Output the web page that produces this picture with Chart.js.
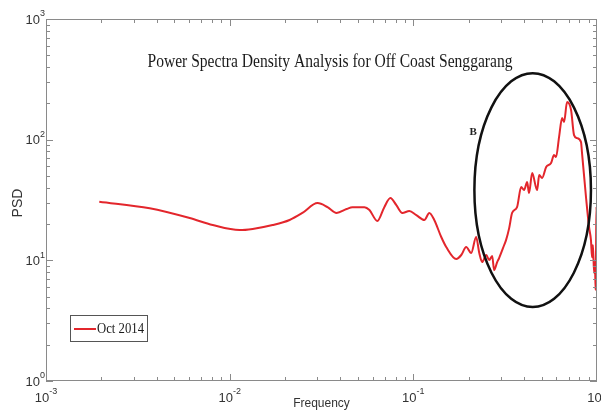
<!DOCTYPE html>
<html>
<head>
<meta charset="utf-8">
<title>PSD</title>
<script src="https://cdn.jsdelivr.net/npm/chart.js@4.4.1/dist/chart.umd.min.js"></script>
<style>
    html, body { margin: 0; padding: 0; background: #ffffff; }
    #chart_box { width: 601px; height: 416px; }
</style>
</head>
<body>
<div id="chart_box"><canvas id="psd_chart" width="601" height="416"></canvas></div>
<script>
const chartTitle = "Power Spectra Density Analysis for Off Coast Senggarang";
const seriesLabel = "Oct 2014";
const xAxisTitle = "Frequency";
const yAxisTitle = "PSD";

// frequency / PSD pairs
const frequencies = [
    0.00195, 0.00367, 0.00606, 0.00809, 0.01133, 0.01334, 0.01713, 0.0212, 0.0249, 0.0301,
    0.0341, 0.0382, 0.0433, 0.0466, 0.0542, 0.0577, 0.0637, 0.0695, 0.075, 0.0808,
    0.0871, 0.0951, 0.1038, 0.1148, 0.1222, 0.130, 0.1419, 0.151, 0.1713, 0.1824,
    0.194, 0.2065, 0.2198, 0.2286, 0.237, 0.2495, 0.2589, 0.2687, 0.2754, 0.2861,
    0.2931, 0.3124, 0.3197, 0.3325, 0.345, 0.367, 0.3864, 0.401, 0.4165, 0.4265,
    0.4436, 0.472, 0.4845, 0.5024, 0.5286, 0.5623, 0.5834, 0.598, 0.6215, 0.6455,
    0.6617, 0.687, 0.7224, 0.750, 0.778, 0.8185, 0.828, 0.871, 0.9048, 0.927,
    0.9398, 0.9506, 0.9638, 0.975, 0.982, 0.988, 0.993, 1.0
];
const psd = [
    30.6, 27.0, 22.4, 19.6, 17.8, 18.2, 19.6, 21.6, 24.7, 29.8,
    27.6, 24.7, 26.6, 27.6, 27.6, 26.1, 21.2, 27.6, 32.8, 28.7,
    24.7, 25.6, 23.7, 21.6, 24.7, 21.6, 15.6, 12.9, 10.25, 11.07,
    12.9, 11.5, 15.6, 11.5, 9.68, 11.07, 10.06, 10.85, 8.31, 9.68,
    10.45, 13.4, 14.7, 18.5, 24.7, 27.6, 40.5, 38.2, 44.5, 36.1,
    52.9, 38.2, 50.9, 48.1, 59.3, 64.0, 74.6, 71.7, 105, 151,
    140, 205, 176, 109, 103, 95.5, 78.9, 33.5, 18.9, 14.7,
    10.6, 13.4, 7.85, 9.68, 5.68, 12.2, 28, 20
];

const xDecades = [-3, -2, -1, 0];
const yDecades = [0, 1, 2, 3];

// circled region "B"
const markerLabel = "B";
const markerFreq = 0.212;
const markerPsd = 115;
const ellipseFreq = [0.215, 0.927];
const ellipsePsd = [4.1, 356];

function superLabel(ctx, exponent, x, y, align) {
    const base = "10";
    const sup = String(exponent);
    ctx.font = "13px 'Liberation Sans', Arial, sans-serif";
    const wb = ctx.measureText(base).width;
    ctx.font = "9px 'Liberation Sans', Arial, sans-serif";
    const ws = ctx.measureText(sup).width;
    let left = x;
    if (align === "right") left = x - wb - ws;
    if (align === "center") left = x - (wb + ws) / 2;
    ctx.textAlign = "left";
    ctx.textBaseline = "middle";
    ctx.font = "13px 'Liberation Sans', Arial, sans-serif";
    ctx.fillText(base, left, y);
    ctx.font = "9px 'Liberation Sans', Arial, sans-serif";
    ctx.fillText(sup, left + wb, y - 6);
}

const matlabFrame = {
    id: "matlabFrame",
    afterDatasetsDraw(chart) {
        const ctx = chart.ctx;
        const area = chart.chartArea;
        const xs = chart.scales.x;
        const ys = chart.scales.y;
        ctx.save();

        // the black ellipse round region B
        const ex0 = xs.getPixelForValue(ellipseFreq[0]);
        const ex1 = xs.getPixelForValue(ellipseFreq[1]);
        const ey0 = ys.getPixelForValue(ellipsePsd[1]);
        const ey1 = ys.getPixelForValue(ellipsePsd[0]);
        ctx.beginPath();
        ctx.ellipse((ex0 + ex1) / 2, (ey0 + ey1) / 2, (ex1 - ex0) / 2, (ey1 - ey0) / 2, 0, 0, Math.PI * 2);
        ctx.strokeStyle = "#111111";
        ctx.lineWidth = 2.5;
        ctx.stroke();

        ctx.fillStyle = "#222222";
        ctx.font = "bold 11px 'Liberation Serif', 'Times New Roman', serif";
        ctx.textAlign = "center";
        ctx.textBaseline = "middle";
        ctx.fillText(markerLabel, xs.getPixelForValue(markerFreq), ys.getPixelForValue(markerPsd));

        // box and ticks
        ctx.strokeStyle = "#8a8a8a";
        ctx.lineWidth = 1;
        ctx.strokeRect(area.left + 0.5, area.top + 0.5, area.right - area.left - 1, area.bottom - area.top - 1);
        ctx.beginPath();
        xDecades.slice(0, -1).forEach(function(d) {
            for (let m = 1; m <= 9; m++) {
                const px = Math.round(xs.getPixelForValue(m * Math.pow(10, d))) + 0.5;
                const len = m === 1 ? 7 : 4;
                ctx.moveTo(px, area.bottom);
                ctx.lineTo(px, area.bottom - len);
                ctx.moveTo(px, area.top);
                ctx.lineTo(px, area.top + len);
            }
        });
        yDecades.slice(0, -1).forEach(function(d) {
            for (let m = 1; m <= 9; m++) {
                const py = Math.round(ys.getPixelForValue(m * Math.pow(10, d))) + 0.5;
                const len = m === 1 ? 7 : 4;
                ctx.moveTo(area.left, py);
                ctx.lineTo(area.left + len, py);
                ctx.moveTo(area.right, py);
                ctx.lineTo(area.right - len, py);
            }
        });
        ctx.stroke();

        // tick labels
        ctx.fillStyle = "#333333";
        xDecades.forEach(function(d) {
            superLabel(ctx, d, xs.getPixelForValue(Math.pow(10, d)), area.bottom + 17, "center");
        });
        yDecades.forEach(function(d) {
            superLabel(ctx, d, area.left - 1, ys.getPixelForValue(Math.pow(10, d)) + 1, "right");
        });

        // axis titles
        ctx.font = "12px 'Liberation Sans', Arial, sans-serif";
        ctx.textAlign = "center";
        ctx.textBaseline = "middle";
        ctx.fillText(xAxisTitle, (area.left + area.right) / 2, area.bottom + 23);
        ctx.save();
        ctx.translate(18, (area.top + area.bottom) / 2 + 3);
        ctx.rotate(-Math.PI / 2);
        ctx.font = "14px 'Liberation Sans', Arial, sans-serif";
        ctx.fillText(yAxisTitle, 0, 0);
        ctx.restore();

        // title inside the axes
        ctx.fillStyle = "#1a1a1a";
        ctx.font = "18px 'Liberation Serif', 'Times New Roman', serif";
        ctx.fillText(chartTitle, area.left + 284, area.top + 43, 365);

        // legend box
        const lx = area.left + 24, ly = area.bottom - 66;
        ctx.fillStyle = "#ffffff";
        ctx.fillRect(lx, ly, 77, 26);
        ctx.strokeStyle = "#555555";
        ctx.strokeRect(lx + 0.5, ly + 0.5, 77, 26);
        const ds = chart.data.datasets[0];
        ctx.strokeStyle = ds.borderColor;
        ctx.lineWidth = 2;
        ctx.beginPath();
        ctx.moveTo(lx + 4, ly + 14);
        ctx.lineTo(lx + 26, ly + 14);
        ctx.stroke();
        ctx.fillStyle = "#1a1a1a";
        ctx.textAlign = "left";
        ctx.font = "15px 'Liberation Serif', 'Times New Roman', serif";
        ctx.fillText(ds.label, lx + 27, ly + 14, 47);

        ctx.restore();
    }
};

new Chart(document.getElementById("psd_chart").getContext("2d"), {
    type: "line",
    data: {
        datasets: [{
            label: seriesLabel,
            data: frequencies.map(function(f, i) { return { x: f, y: psd[i] }; }),
            borderColor: "#e3262c",
            borderWidth: 2,
            pointRadius: 0,
            cubicInterpolationMode: "monotone",
            fill: false
        }]
    },
    options: {
        responsive: false,
        animation: false,
        devicePixelRatio: 1,
        layout: { padding: { left: 46, top: 19, right: 4, bottom: 35 } },
        plugins: {
            legend: { display: false },
            title: { display: false },
            tooltip: { enabled: false }
        },
        scales: {
            x: { type: "logarithmic", min: 0.001, max: 1, display: false },
            y: { type: "logarithmic", min: 1, max: 1000, display: false }
        }
    },
    plugins: [matlabFrame]
});
</script>
</body>
</html>
